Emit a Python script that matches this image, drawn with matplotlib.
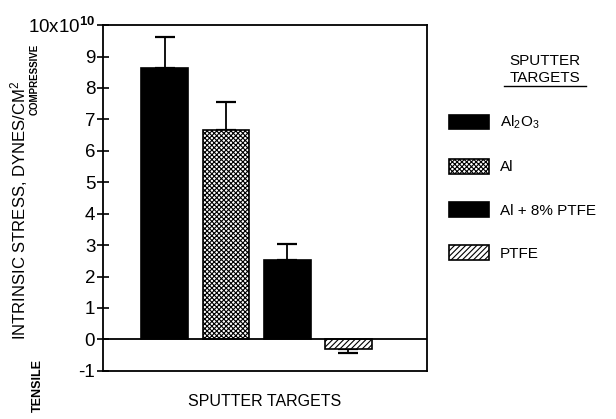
import matplotlib
matplotlib.use("Agg")
import matplotlib.pyplot as plt
from matplotlib.lines import Line2D

plt.rcParams['font.family'] = ['Liberation Sans', 'DejaVu Sans']
plt.rcParams['mathtext.fontset'] = 'custom'
plt.rcParams['mathtext.rm'] = 'Liberation Sans'
plt.rcParams['mathtext.it'] = 'Liberation Sans'
plt.rcParams['mathtext.bf'] = 'Liberation Sans:bold'
plt.rcParams['hatch.linewidth'] = 0.8

# Data (units of 1e10 dynes/cm^2)
targets = ['Al$_2$O$_3$', 'Al', 'Al + 8% PTFE', 'PTFE']
stress = [8.63, 6.67, 2.52, -0.3]
err_up = [0.98, 0.88, 0.50, 0.0]
err_down = [0.0, 0.0, 0.0, 0.12]
yticks = [-1, 0, 1, 2, 3, 4, 5, 6, 7, 8, 9, 10]
ytick_labels = ['-1', '0', '1', '2', '3', '4', '5', '6', '7', '8', '9', '10x10$^{\\mathbf{10}}$']

colors = ['black', 'white', 'black', 'white']
hatches = [None, 'xxxxxxx', None, '//////']

fig = plt.figure(figsize=(6.16, 4.19), dpi=100)
ax = fig.add_axes([0.167, 0.115, 0.526, 0.825])

x = list(range(len(targets)))
for i in x:
    ax.bar(i, stress[i], width=0.76, color=colors[i], edgecolor='black',
           hatch=hatches[i], linewidth=1.2, label=targets[i], zorder=2)
ax.errorbar(x, stress, yerr=[err_down, err_up], fmt='none', ecolor='black',
            elinewidth=1.3, capsize=7, capthick=1.6, zorder=1)

ax.axhline(0, color='black', linewidth=1.3, zorder=3)
ax.set_xlim(-1.01, 4.28)
ax.set_ylim(-1, 10)
ax.set_xticks([])
ax.set_yticks(yticks)
ax.set_yticklabels(ytick_labels, fontsize=13.5)
ax.tick_params(axis='y', direction='inout', length=9, width=1.2, pad=1)
for s in ax.spines.values():
    s.set_linewidth(1.3)

ax.set_xlabel('SPUTTER TARGETS', fontsize=11.5, labelpad=17)

fig.text(0.031, 0.497, 'INTRINSIC STRESS, DYNES/CM$^2$', rotation=90,
         ha='center', va='center', fontsize=12)
fig.text(0.057, 0.81, 'COMPRESSIVE', rotation=90, ha='center', va='center',
         fontsize=7, fontweight='bold')
fig.text(0.062, 0.079, 'TENSILE', rotation=90, ha='center', va='center',
         fontsize=9, fontweight='bold')

leg = ax.legend(loc='upper left', bbox_to_anchor=(0.717, 0.746),
                bbox_transform=fig.transFigure, frameon=False,
                fontsize=11, handlelength=2.6, handleheight=1.1,
                labelspacing=1.8, handletextpad=0.7, borderpad=0)

fig.text(0.885, 0.855, 'SPUTTER', ha='center', va='center', fontsize=11)
fig.text(0.885, 0.813, 'TARGETS', ha='center', va='center', fontsize=11)
fig.add_artist(Line2D([0.818, 0.952], [0.795, 0.795], color='black',
                      linewidth=1.0, transform=fig.transFigure))

fig.savefig('out.png', dpi=100)
